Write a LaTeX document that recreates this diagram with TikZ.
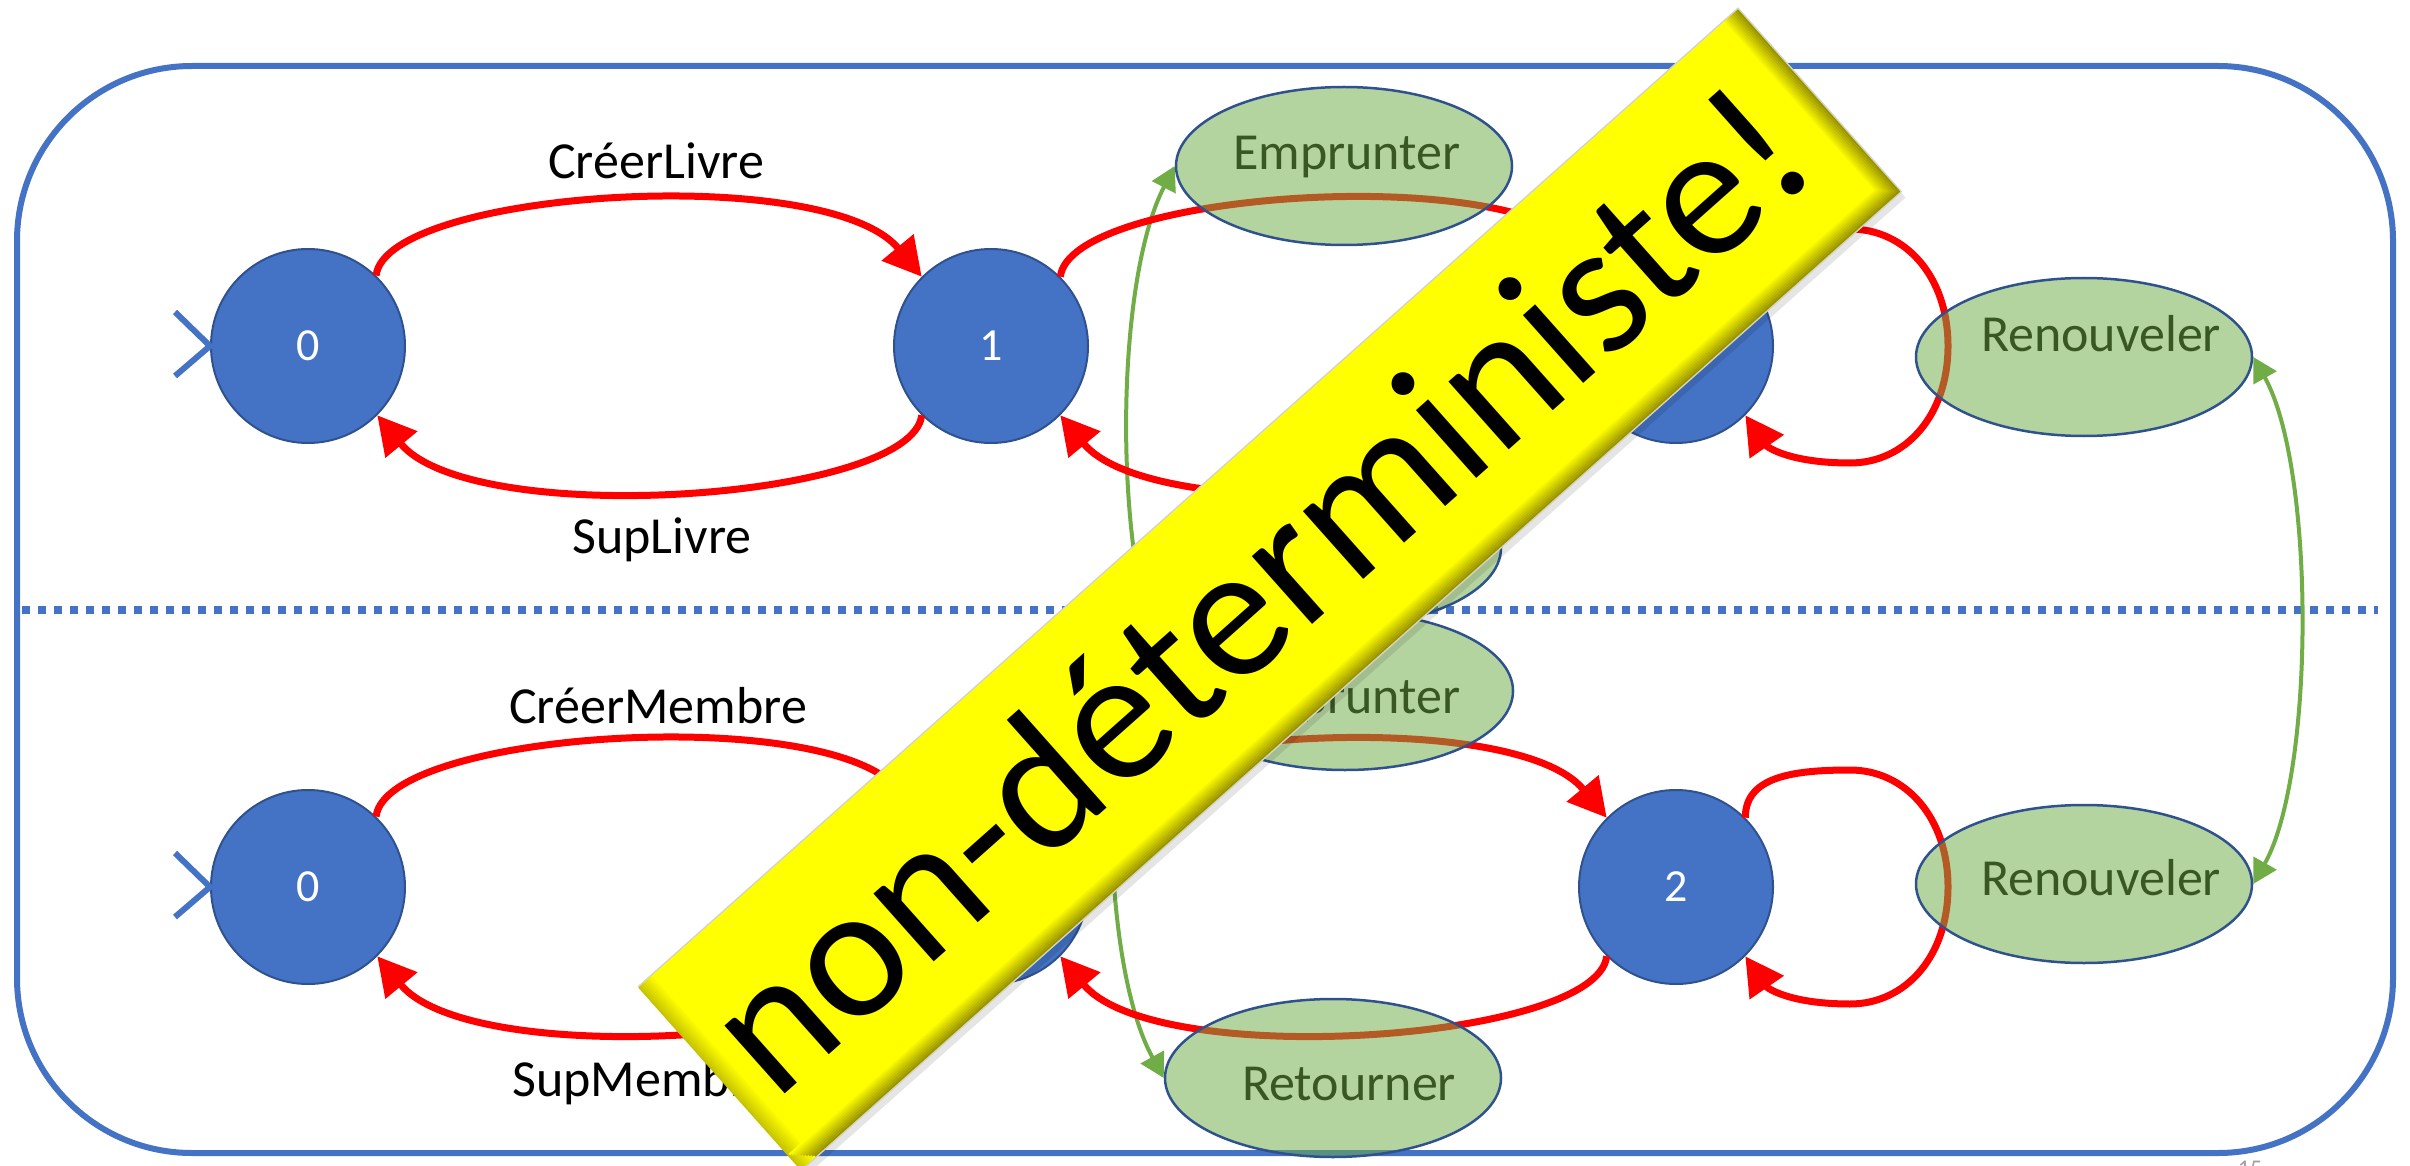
\documentclass[tikz,border=0pt]{standalone}
\usepackage{fontspec}
\setmainfont{Carlito}
\usetikzlibrary{arrows.meta,shapes.geometric,calc}
\pgfdeclarelayer{back}
\pgfsetlayers{back,main}

\definecolor{stateblue}{HTML}{4472C4}
\definecolor{stateedge}{HTML}{2F528F}
\definecolor{evgreen}{HTML}{70AD47}
\definecolor{evtext}{HTML}{385723}
\definecolor{bannerfill}{RGB}{255,255,0}
\definecolor{bevelcol}{RGB}{130,122,0}
\definecolor{pagegray}{RGB}{160,160,160}

\begin{document}
\begin{tikzpicture}[x=1pt,y=-1pt,
  state/.style={circle, fill=stateblue, draw=stateedge, line width=2pt,
    minimum size=194pt, inner sep=0pt, text=white,
    font=\fontsize{46}{50}\selectfont},
  event/.style={ellipse, minimum width=336pt, minimum height=158pt, inner sep=0pt,
    fill=evgreen, fill opacity=0.52, draw=stateedge, line width=2.5pt},
  evlabel/.style={anchor=base, text=evtext, inner sep=0pt,
    font=\fontsize{52}{60}\selectfont},
  trlabel/.style={anchor=base, inner sep=0pt, font=\fontsize{52}{60}\selectfont},
  trans/.style={red, line width=7pt, -{Triangle[length=38pt,width=40pt]}},
  sync/.style={evgreen, line width=4pt,
    {Triangle[length=24pt,width=26pt]}-{Triangle[length=24pt,width=26pt]}},
  initmark/.style={stateblue, line width=6pt},
  frame/.style={stateblue, line width=6pt, rounded corners=175pt},
  divider/.style={stateblue, line width=8pt, dash pattern=on 8pt off 8pt},
  warntext/.style={anchor=base, inner sep=0pt, font=\fontsize{190}{200}\selectfont},
]
\useasboundingbox (0,0) rectangle (2410,1166);

% ---------- states ----------
\node[state] (t0) at (308,346) {0};
\node[state] (t1) at (991,346) {1};
\node[state] (t2) at (1676,346) {2};
\node[state] (b0) at (308,887) {0};
\node[state] (b1) at (991,887) {1};
\node[state] (b2) at (1676,887) {2};

% initial-state marks
\draw[initmark] ($(t0.west)+(-35,-34)$) -- (t0.west) -- ($(t0.west)+(-35,30)$);
\draw[initmark] ($(b0.west)+(-35,-34)$) -- (b0.west) -- ($(b0.west)+(-35,30)$);

% ---------- transitions: book ----------
\draw[trans] (t0.46) .. controls +(10,-85) and +(-95,-115) .. (t1.135);
\draw[trans] (t1.225) .. controls +(-10,85) and +(95,115) .. (t0.-45);
\draw[trans] (t1.45) .. controls +(10,-85) and +(-95,-115) .. (t2.135);
\draw[trans] (t2.225) .. controls +(-10,85) and +(95,115) .. (t1.-45);
\draw[trans] (t2.45) .. controls +(0,-40) and +(-60,0) .. ($(t2)+(174,-117)$)
  .. controls +(55,0) and +(0,-70) .. ($(t2)+(272,0)$)
  .. controls +(0,70) and +(55,0) .. ($(t2)+(174,117)$)
  .. controls +(-60,0) and +(22,32) .. (t2.-45);

% ---------- transitions: member ----------
\draw[trans] (b0.46) .. controls +(10,-85) and +(-95,-115) .. (b1.135);
\draw[trans] (b1.225) .. controls +(-10,85) and +(95,115) .. (b0.-45);
\draw[trans] (b1.45) .. controls +(10,-85) and +(-95,-115) .. (b2.135);
\draw[trans] (b2.225) .. controls +(-10,85) and +(95,115) .. (b1.-45);
\draw[trans] (b2.45) .. controls +(0,-40) and +(-60,0) .. ($(b2)+(174,-117)$)
  .. controls +(55,0) and +(0,-70) .. ($(b2)+(272,0)$)
  .. controls +(0,70) and +(55,0) .. ($(b2)+(174,117)$)
  .. controls +(-60,0) and +(22,32) .. (b2.-45);

% ---------- shared events ----------
\node[event] (et) at (1344,166) {};
\node[event] (rt) at (1333,548) {};
\node[event] (nt) at (2084,357) {};
\node[event] (eb) at (1345,691) {};
\node[event] (rb) at (1333,1078) {};
\node[event] (nb) at (2084,884) {};

\node[evlabel] (etl) at (1347,170) {Emprunter};
\node[evlabel] (rtl) at (1349,570) {Retourner};
\node[evlabel] (ntl) at (2101,352) {Renouveler};
\node[evlabel] (ebl) at (1347,713) {Emprunter};
\node[evlabel] (rbl) at (1349,1100) {Retourner};
\node[evlabel] (nbl) at (2101,895) {Renouveler};

% ---------- transition labels ----------
\node[trlabel] (lcl) at (656,179) {CréerLivre};
\node[trlabel] (lsl) at (662,553) {SupLivre};
\node[trlabel] (lcm) at (658,723) {CréerMembre};
\node[trlabel] (lsm) at (643,1096) {SupMembre};

% ---------- frame, divider, synchronisation links ----------
\begin{pgfonlayer}{back}
  \draw[frame] (17,66) rectangle (2393,1153);
  \draw[divider] (22,610) -- (2378,610);
  \draw[sync] (et.west) .. controls +(-62,120) and +(-62,-120) .. (eb.west);
  \draw[sync] (rt.west) .. controls +(-66,120) and +(-66,-120) .. (rb.west);
  \draw[sync] (nt.east) .. controls +(62,110) and +(62,-110) .. (nb.east);
\end{pgfonlayer}

% page number
\node[anchor=north, inner sep=0pt, text=pagegray, font=\fontsize{24}{24}\selectfont] (pg) at (2250,1161) {15};

% ---------- banner ----------
\begin{scope}[shift={(1270,589)}, rotate=41.66]
  % soft shadow below the lower long edge
  \fill[black, opacity=0.10] (-735,-118) rectangle (735,130);
  \fill[gray!35] (-736.5,-123.5) rectangle (736.5,123.5);
  \fill[bannerfill] (-735,-122) rectangle (735,122);
  % bevel on the lower-left end
  \foreach \i in {0,...,9}{
    \pgfmathtruncatemacro\mix{100-5*\i}
    \fill[bannerfill!\mix!bevelcol] ({-717-2*\i},-122) rectangle ({-719-2*\i},122);
  }
  % bevel on the upper-right end and the lower long edge
  \foreach \i in {0,...,9}{
    \pgfmathtruncatemacro\mix{100-9*\i}
    \fill[bannerfill!\mix!bevelcol] ({715+2*\i},-122) rectangle ({717+2*\i},122);
    \fill[bannerfill!\mix!bevelcol] ({-735+2*\i},{102+2*\i}) rectangle (735,{104+2*\i});
  }
  \node[warntext, transform shape] (warn) at (-10,55) {non-déterministe!};
\end{scope}
\end{tikzpicture}
\end{document}
